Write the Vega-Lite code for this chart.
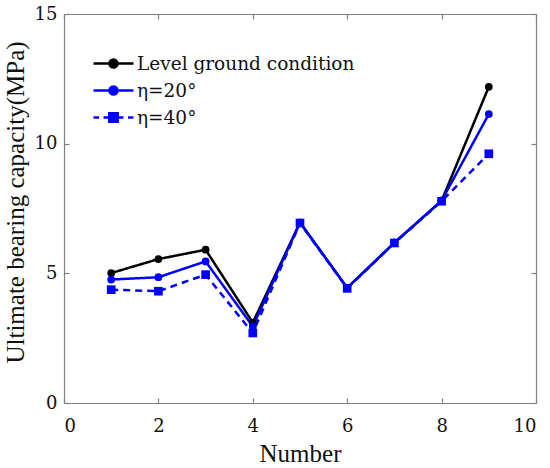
{
  "$schema": "https://vega.github.io/schema/vega-lite/v6.json",
  "width": 472,
  "height": 389,
  "padding": {"left": 3, "top": 5, "right": 2, "bottom": 0},
  "data": {
    "values": [
      {"number": 1, "capacity": 5.01, "series": "Level ground condition"},
      {"number": 2, "capacity": 5.55, "series": "Level ground condition"},
      {"number": 3, "capacity": 5.91, "series": "Level ground condition"},
      {"number": 4, "capacity": 3.10, "series": "Level ground condition"},
      {"number": 5, "capacity": 6.96, "series": "Level ground condition"},
      {"number": 6, "capacity": 4.44, "series": "Level ground condition"},
      {"number": 7, "capacity": 6.18, "series": "Level ground condition"},
      {"number": 8, "capacity": 7.80, "series": "Level ground condition"},
      {"number": 9, "capacity": 12.19, "series": "Level ground condition"},
      {"number": 1, "capacity": 4.76, "series": "η=20°"},
      {"number": 2, "capacity": 4.85, "series": "η=20°"},
      {"number": 3, "capacity": 5.46, "series": "η=20°"},
      {"number": 4, "capacity": 2.95, "series": "η=20°"},
      {"number": 5, "capacity": 6.96, "series": "η=20°"},
      {"number": 6, "capacity": 4.44, "series": "η=20°"},
      {"number": 7, "capacity": 6.18, "series": "η=20°"},
      {"number": 8, "capacity": 7.80, "series": "η=20°"},
      {"number": 9, "capacity": 11.14, "series": "η=20°"},
      {"number": 1, "capacity": 4.37, "series": "η=40°"},
      {"number": 2, "capacity": 4.31, "series": "η=40°"},
      {"number": 3, "capacity": 4.95, "series": "η=40°"},
      {"number": 4, "capacity": 2.70, "series": "η=40°"},
      {"number": 5, "capacity": 6.94, "series": "η=40°"},
      {"number": 6, "capacity": 4.42, "series": "η=40°"},
      {"number": 7, "capacity": 6.17, "series": "η=40°"},
      {"number": 8, "capacity": 7.78, "series": "η=40°"},
      {"number": 9, "capacity": 9.61, "series": "η=40°"}
    ]
  },
  "encoding": {
    "x": {"field": "number", "type": "quantitative", "scale": {"domain": [0, 10], "nice": false}},
    "y": {"field": "capacity", "type": "quantitative", "scale": {"domain": [0, 15], "nice": false}},
    "color": {
      "field": "series",
      "type": "nominal",
      "scale": {"domain": ["Level ground condition", "η=20°", "η=40°"], "range": ["black", "blue", "blue"]},
      "legend": null
    }
  },
  "layer": [
    {
      "mark": {"type": "line", "strokeWidth": 2.5},
      "encoding": {
        "x": {"field": "number", "type": "quantitative", "title": "Number", "axis": {"values": [0, 2, 4, 6, 8, 10], "labelPadding": 19, "titlePadding": 6}},
        "y": {"field": "capacity", "type": "quantitative", "title": "Ultimate bearing capacity(MPa)", "axis": {"values": [0, 5, 10, 15], "titleY": 188}},
        "strokeDash": {
          "field": "series",
          "type": "nominal",
          "scale": {"domain": ["Level ground condition", "η=20°", "η=40°"], "range": [[1, 0], [1, 0], [7, 5]]},
          "legend": null
        }
      }
    },
    {
      "mark": {"type": "point", "filled": true, "opacity": 1, "shape": "circle", "size": 60},
      "transform": [{"filter": "datum.series != 'η=40°'"}],
      "encoding": {
        "x": {"field": "number", "type": "quantitative", "axis": {"values": [0, 2, 4, 6, 8, 10], "labels": false, "title": null}},
        "y": {"field": "capacity", "type": "quantitative", "axis": {"values": [0, 5, 10, 15], "labels": false, "title": null}}
      }
    },
    {
      "mark": {"type": "point", "filled": true, "opacity": 1, "shape": "square", "size": 75},
      "transform": [{"filter": "datum.series == 'η=40°'"}],
      "encoding": {
        "x": {"field": "number", "type": "quantitative", "axis": null},
        "y": {"field": "capacity", "type": "quantitative", "axis": null}
      }
    },
    {
      "mark": {"type": "point", "opacity": 0, "strokeWidth": 2.5},
      "encoding": {
        "x": {"field": "number", "type": "quantitative", "axis": null},
        "y": {"field": "capacity", "type": "quantitative", "axis": null},
        "color": {"field": "series", "type": "nominal", "legend": null},
        "fill": {
          "field": "series",
          "type": "nominal",
          "scale": {"domain": ["Level ground condition", "η=20°", "η=40°"], "range": ["black", "blue", "blue"]},
          "legend": {"title": null, "orient": "none", "legendX": 38, "legendY": 38, "symbolSize": 400, "symbolOpacity": 1, "symbolStrokeWidth": 2.5, "rowPadding": 6, "labelOffset": 12, "labelLimit": 400}
        },
        "stroke": {
          "field": "series",
          "type": "nominal",
          "scale": {"domain": ["Level ground condition", "η=20°", "η=40°"], "range": ["black", "blue", "blue"]},
          "legend": {"title": null, "orient": "none", "legendX": 38, "legendY": 38, "symbolSize": 400, "symbolOpacity": 1, "symbolStrokeWidth": 2.5, "rowPadding": 6, "labelOffset": 12, "labelLimit": 400}
        },
        "shape": {
          "field": "series",
          "type": "nominal",
          "scale": {
            "domain": ["Level ground condition", "η=20°", "η=40°"],
            "range": [
              "M-2,0H2M0.4,0A0.4,0.4,0,1,1,-0.4,0A0.4,0.4,0,1,1,0.4,0Z",
              "M-2,0H2M0.4,0A0.4,0.4,0,1,1,-0.4,0A0.4,0.4,0,1,1,0.4,0Z",
              "M-2,0H-1.45M-1.0,0H-0.55M0.55,0H1.0M1.45,0H2M-0.42,-0.42H0.42V0.42H-0.42Z"
            ]
          },
          "legend": {"title": null, "orient": "none", "legendX": 38, "legendY": 38, "symbolSize": 400, "symbolOpacity": 1, "symbolStrokeWidth": 2.5, "rowPadding": 6, "labelOffset": 12, "labelLimit": 400}
        }
      }
    }
  ],
  "resolve": {
    "axis": {"x": "independent", "y": "independent"},
    "scale": {"shape": "independent", "fill": "independent", "stroke": "independent"}
  },
  "config": {
    "background": "white",
    "view": {"stroke": null},
    "font": "Liberation Serif",
    "axis": {
      "grid": false,
      "domainColor": "#808080",
      "domainWidth": 1.2,
      "tickColor": "#808080",
      "tickSize": -5,
      "tickWidth": 1.2,
      "labelFont": "DejaVu Serif",
      "labelFontSize": 18,
      "labelColor": "#111",
      "labelPadding": 12,
      "titleFont": "Liberation Serif",
      "titleFontSize": 25,
      "titleFontWeight": "normal",
      "titleColor": "#111"
    },
    "axisY": {"titlePadding": 6},
    "legend": {"labelFont": "DejaVu Serif", "labelFontSize": 18.5, "labelColor": "#111"}
  }
}
